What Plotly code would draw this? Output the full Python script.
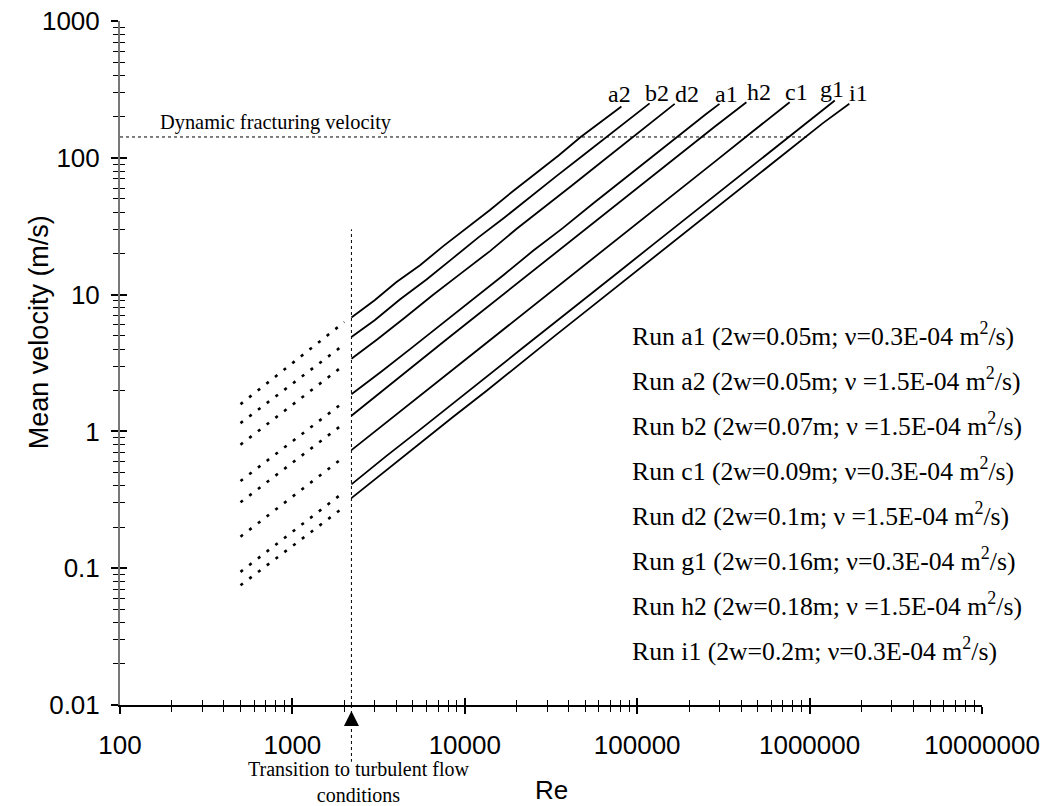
import numpy as np
import plotly.graph_objects as go

# ---------------- data ----------------
# run order from left (highest velocity at a given Re) to right
run_ids = ["a2", "b2", "d2", "h2", "a1", "c1", "g1", "i1"]
# labels as they are written at the upper ends of the lines (left to right)
top_labels = ["a2", "b2", "d2", "a1", "h2", "c1", "g1", "i1"]

# turbulent part (solid lines): Reynolds number and mean velocity (m/s)
re_a2 = [2200, 3000, 4000, 5500, 7500, 10000, 14000, 19000, 26000, 35000, 47000, 62000, 81000]
v_a2 = [6.8, 9.1, 12.3, 16.4, 22.6, 30.0, 41.5, 57.0, 77.0, 104, 142, 184, 237]

re_b2 = [2200, 3000, 4200, 6000, 8500, 12000, 17000, 24000, 34000, 48000, 68000, 95000, 118000]
v_b2 = [4.9, 6.5, 9.2, 12.9, 18.4, 26.2, 36.6, 52.0, 73.5, 103, 146, 204, 250]

re_d2 = [2200, 3100, 4500, 6500, 9500, 14000, 20000, 29000, 42000, 60000, 85000, 120000, 165000]
v_d2 = [3.4, 4.7, 6.8, 9.9, 14.3, 20.8, 30.3, 43.5, 63.0, 90.0, 128, 181, 248]

re_h2 = [2200, 3300, 5000, 7500, 11000, 17000, 25000, 37000, 55000, 80000, 120000, 180000, 250000, 300000]
v_h2 = [1.87, 2.75, 4.15, 6.2, 9.2, 14.1, 21.0, 30.6, 46.0, 66.5, 100, 150, 208, 248]

re_a1 = [2200, 3300, 5000, 7500, 11000, 17000, 25000, 38000, 56000, 85000, 125000, 185000, 280000, 430000]
v_a1 = [1.30, 1.97, 3.0, 4.5, 6.6, 10.2, 15.1, 22.6, 33.8, 51.0, 75.5, 111, 168, 255]

re_c1 = [2200, 3500, 5500, 8500, 13000, 20000, 31000, 48000, 75000, 115000, 180000, 280000, 450000, 766000]
v_c1 = [0.73, 1.16, 1.83, 2.84, 4.3, 6.7, 10.3, 16.0, 25.0, 38.3, 60.0, 93.0, 150, 255]

re_g1 = [2200, 3500, 5500, 8500, 13500, 21000, 33000, 52000, 80000, 125000, 200000, 320000, 500000, 800000, 1100000, 1400000]
v_g1 = [0.41, 0.66, 1.03, 1.60, 2.52, 3.95, 6.2, 9.7, 15.0, 23.5, 37.5, 60.0, 94.0, 150, 206, 262]

re_i1 = [2200, 3500, 5500, 8500, 13500, 21000, 33000, 52000, 80000, 125000, 200000, 320000, 500000, 800000, 1200000, 1700000]
v_i1 = [0.325, 0.52, 0.82, 1.27, 2.0, 3.15, 4.95, 7.8, 12.0, 18.8, 30.0, 48.0, 75.0, 120, 180, 248]

turb_re = [re_a2, re_b2, re_d2, re_h2, re_a1, re_c1, re_g1, re_i1]
turb_v = [v_a2, v_b2, v_d2, v_h2, v_a1, v_c1, v_g1, v_i1]

# laminar extension (dotted lines): start / end values
lam_re = [500, 2000]
lam_v_start = [1.58, 1.15, 0.80, 0.434, 0.303, 0.170, 0.094, 0.075]
lam_v_end = [6.3, 4.33, 3.06, 1.65, 1.15, 0.653, 0.362, 0.281]

# reference values
re_transition = 2200
v_transition_top = 30
v_fracture = 142
re_fracture_end = 1000000

legend_lines = [
    "Run a1 (2w=0.05m; \u03bd=0.3E-04 m<sup>2</sup>/s)",
    "Run a2 (2w=0.05m; \u03bd =1.5E-04 m<sup>2</sup>/s)",
    "Run b2 (2w=0.07m; \u03bd =1.5E-04 m<sup>2</sup>/s)",
    "Run c1 (2w=0.09m; \u03bd=0.3E-04 m<sup>2</sup>/s)",
    "Run d2 (2w=0.1m; \u03bd =1.5E-04 m<sup>2</sup>/s)",
    "Run g1 (2w=0.16m; \u03bd=0.3E-04 m<sup>2</sup>/s)",
    "Run h2 (2w=0.18m; \u03bd =1.5E-04 m<sup>2</sup>/s)",
    "Run i1 (2w=0.2m; \u03bd=0.3E-04 m<sup>2</sup>/s)",
]

x_tickvals = [1e2, 1e3, 1e4, 1e5, 1e6, 1e7]
x_ticktext = ["100", "1000", "10000", "100000", "1000000", "10000000"]
y_tickvals = [0.01, 0.1, 1, 10, 100, 1000]
y_ticktext = ["0.01", "0.1", "1", "10", "100", "1000"]

# ---------------- styling ----------------
SERIF = "Liberation Serif, Times New Roman, serif"
SANS = "Liberation Sans, Arial, sans-serif"
label_xshift = [-2, 7, 12, 7, 13, 7, -3, 9]
label_yshift = [13, 10, 10, 10, 10, 10, 12, 11]

x_minor = [m * 10 ** e for e in range(2, 7) for m in range(2, 10)]
y_minor = [m * 10.0 ** e for e in range(-2, 3) for m in range(2, 10)]

fig = go.Figure()

for i, rid in enumerate(run_ids):
    fig.add_trace(go.Scatter(
        x=lam_re, y=[lam_v_start[i], lam_v_end[i]], mode="lines",
        line=dict(color="black", width=2.6, dash="3px,8px"),
        name=rid + " laminar", hoverinfo="skip"))
    fig.add_trace(go.Scatter(
        x=turb_re[i], y=turb_v[i], mode="lines",
        line=dict(color="black", width=1.8),
        name="Run " + rid))

# dummy trace for the overlay axes (inner half of the crossing ticks)
fig.add_trace(go.Scatter(x=[None], y=[None], xaxis="x2", yaxis="y2",
                         showlegend=False, hoverinfo="skip"))

# dynamic fracturing velocity line
fig.add_shape(type="line", xref="x", yref="y", x0=x_tickvals[0], x1=re_fracture_end,
              y0=v_fracture, y1=v_fracture,
              line=dict(color="black", width=1, dash="dot"))
fig.add_annotation(x=np.log10(160), y=np.log10(v_fracture), xref="x", yref="y",
                   text="Dynamic fracturing velocity", showarrow=False,
                   xanchor="left", yanchor="middle", yshift=14, xshift=3,
                   font=dict(family=SERIF, size=20.4, color="black"))

# transition line
fig.add_shape(type="line", xref="x", yref="y", x0=re_transition, x1=re_transition,
              y0=y_tickvals[0], y1=v_transition_top,
              line=dict(color="black", width=1, dash="dot"))
fig.add_shape(type="line", xref="x", yref="paper", x0=re_transition, x1=re_transition,
              y0=0, y1=-0.083,
              line=dict(color="black", width=1, dash="dot"))
fig.add_annotation(x=np.log10(re_transition), y=np.log10(y_tickvals[0]), xref="x", yref="y",
                   ax=0, ay=22, text="", showarrow=True, arrowhead=2, arrowsize=3,
                   arrowwidth=1, arrowcolor="black", standoff=6)
fig.add_annotation(x=np.log10(re_transition), y=-0.074, xref="x", yref="paper",
                   text="Transition to turbulent flow<br>conditions", showarrow=False,
                   xanchor="center", yanchor="top", xshift=7,
                   font=dict(family=SERIF, size=20, color="black"))

# labels at the upper ends of the lines
for i, lab in enumerate(top_labels):
    fig.add_annotation(x=np.log10(turb_re[i][-1]), y=np.log10(turb_v[i][-1]),
                       xref="x", yref="y", text=lab, showarrow=False,
                       xanchor="center", yanchor="middle",
                       xshift=label_xshift[i], yshift=label_yshift[i],
                       font=dict(family=SERIF, size=24, color="black"))

# legend text block
for i, txt in enumerate(legend_lines):
    fig.add_annotation(x=0.5915, y=0.541 - i * 0.0657, xref="paper", yref="paper",
                       text=txt, showarrow=False, xanchor="left", yanchor="middle",
                       font=dict(family=SERIF, size=25.7, color="black"))

# axis titles
fig.add_annotation(x=0.5, y=-0.124, xref="paper", yref="paper", text="Re",
                   showarrow=False, xanchor="center", yanchor="middle",
                   font=dict(family=SANS, size=26, color="black"))
fig.add_annotation(x=-0.094, y=0.545, xref="paper", yref="paper",
                   text="Mean velocity (m/s)", textangle=-90,
                   showarrow=False, xanchor="center", yanchor="middle",
                   font=dict(family=SANS, size=27, color="black"))

common_x = dict(type="log", range=[2, 7], showgrid=False, zeroline=False,
                tickvals=x_tickvals, ticklen=7, tickwidth=2, tickcolor="black")
common_y = dict(type="log", range=[-2, 3], showgrid=False, zeroline=False,
                tickvals=y_tickvals, ticklen=7, tickwidth=1.5, tickcolor="black")

fig.update_layout(
    width=1041, height=798,
    margin=dict(l=112, r=66.5, t=13, b=101),
    plot_bgcolor="white", paper_bgcolor="white",
    showlegend=False,
    font=dict(family=SANS, size=26, color="black"),
    xaxis=dict(**common_x, ticktext=x_ticktext, ticks="outside",
               showline=True, linecolor="black", linewidth=1.5,
               tickfont=dict(family=SANS, size=26, color="black"),
               ticklabelstandoff=9, automargin=False, ticklabeloverflow="allow",
               minor=dict(tickvals=x_minor, ticks="outside", ticklen=5,
                          tickwidth=1, tickcolor="black", showgrid=False)),
    yaxis=dict(**common_y, ticktext=y_ticktext, ticks="outside",
               showline=True, linecolor="#777777", linewidth=2,
               tickfont=dict(family=SANS, size=26, color="black"),
               ticklabelstandoff=6, automargin=False, ticklabeloverflow="allow",
               minor=dict(tickvals=y_minor, ticks="outside", ticklen=5,
                          tickwidth=1, tickcolor="black", showgrid=False)),
    xaxis2=dict(**common_x, overlaying="x", anchor="y2", side="bottom",
                ticks="inside", showticklabels=False, showline=False,
                automargin=False,
                minor=dict(tickvals=x_minor, ticks="inside", ticklen=5,
                           tickwidth=1, tickcolor="black", showgrid=False)),
    yaxis2=dict(**common_y, overlaying="y", anchor="x2", side="left",
                ticks="inside", showticklabels=False, showline=False,
                automargin=False,
                minor=dict(tickvals=y_minor, ticks="inside", ticklen=5,
                           tickwidth=1, tickcolor="black", showgrid=False)),
)

fig.write_html("out.html")
